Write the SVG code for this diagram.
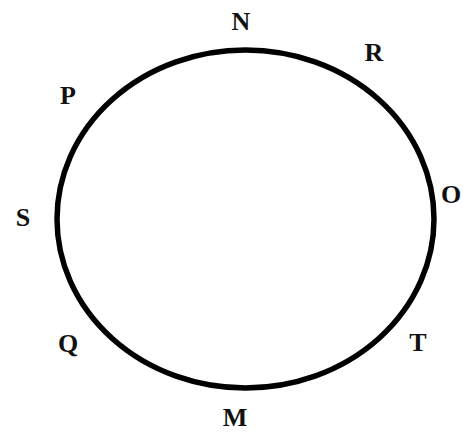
<svg xmlns="http://www.w3.org/2000/svg" width="463" height="432" viewBox="0 0 463 432">
<style>
.lbl{font-family:"Liberation Serif","DejaVu Serif",serif;font-weight:bold;font-size:26px;fill:#111;text-anchor:middle}
</style>
<rect width="463" height="432" fill="#fff"/>
<g id="ring"><ellipse cx="245.5" cy="219" rx="188.5" ry="169" fill="none" stroke="#000" stroke-width="5.5"/></g>
<g id="N"><text class="lbl" x="241" y="30">N</text></g>
<g id="R"><text class="lbl" x="374" y="61">R</text></g>
<g id="P"><text class="lbl" x="68" y="104">P</text></g>
<g id="S"><text class="lbl" x="23" y="226">S</text></g>
<g id="O"><text class="lbl" x="451" y="203">O</text></g>
<g id="Q"><text class="lbl" x="68" y="352">Q</text></g>
<g id="T"><text class="lbl" x="418" y="351">T</text></g>
<g id="M"><text class="lbl" x="235" y="426">M</text></g>
</svg>
